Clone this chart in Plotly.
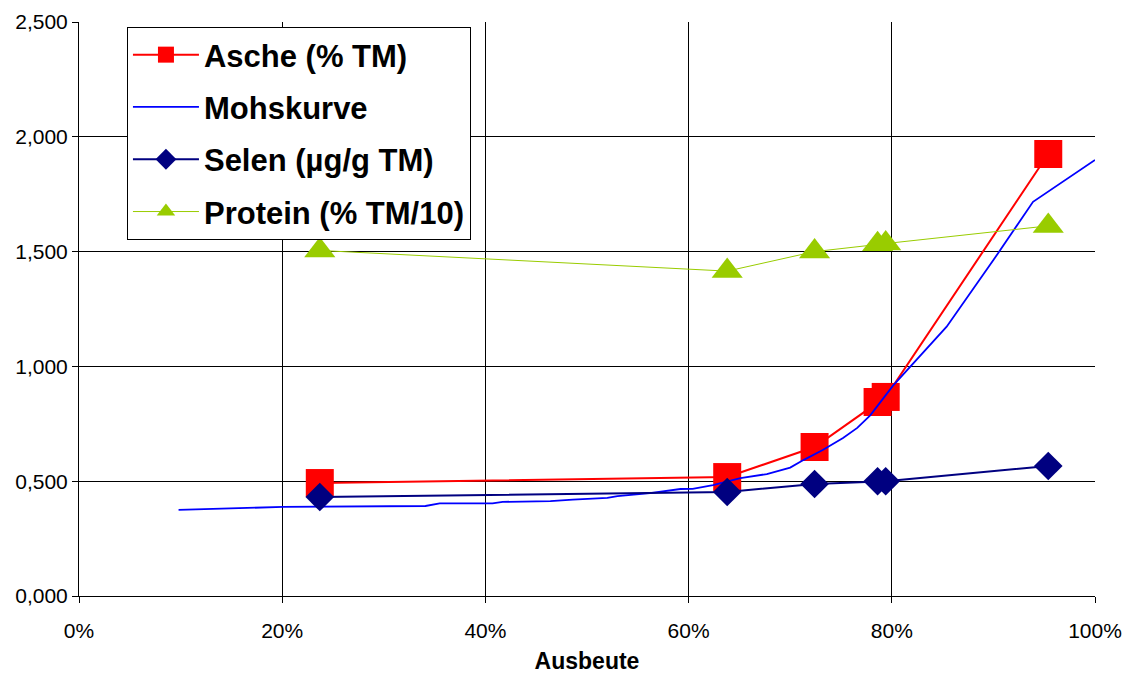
import plotly.graph_objects as go

# Data (x = Ausbeute as fraction, y values)
probe_x = [0.237, 0.638, 0.724, 0.786, 0.794, 0.954]
asche_y = [0.492, 0.518, 0.649, 0.845, 0.867, 1.925]
selen_y = [0.431, 0.453, 0.488, 0.500, 0.500, 0.566]
protein_y = [1.505, 1.415, 1.500, 1.532, 1.535, 1.612]

mohs_x = [0.098, 0.201, 0.341, 0.355, 0.407, 0.417, 0.464, 0.486, 0.520, 0.530,
          0.562, 0.592, 0.604, 0.624, 0.651, 0.677, 0.700, 0.713, 0.732, 0.752,
          0.766, 0.779, 0.801, 0.818, 0.854, 0.900, 0.939, 1.000]
mohs_y = [0.375, 0.388, 0.392, 0.403, 0.403, 0.410, 0.413, 0.420, 0.427, 0.435,
          0.448, 0.466, 0.467, 0.483, 0.513, 0.531, 0.559, 0.592, 0.636, 0.688,
          0.732, 0.788, 0.915, 0.999, 1.173, 1.463, 1.717, 1.899]

y_ticks = [0, 0.5, 1.0, 1.5, 2.0, 2.5]
y_ticktext = ["0,000", "0,500", "1,000", "1,500", "2,000", "2,500"]
x_ticks = [0, 0.2, 0.4, 0.6, 0.8, 1.0]
x_ticktext = ["0%", "20%", "40%", "60%", "80%", "100%"]

fig = go.Figure()
fig.add_trace(go.Scatter(x=probe_x, y=asche_y, name="Asche (% TM)", mode="lines+markers",
                         line=dict(color="#FF0000", width=2),
                         marker=dict(symbol="square", size=28, color="#FF0000"),
                         legendgroup="a"))
fig.add_trace(go.Scatter(x=mohs_x, y=mohs_y, name="Mohskurve", mode="lines",
                         line=dict(color="#0000FF", width=1.8), legendgroup="b"))
fig.add_trace(go.Scatter(x=probe_x, y=selen_y, name="Selen (µg/g TM)", mode="lines+markers",
                         line=dict(color="#000080", width=2),
                         marker=dict(symbol="diamond", size=22, color="#000080"),
                         legendgroup="c"))
fig.add_trace(go.Scatter(x=probe_x, y=protein_y, name="Protein (% TM/10)", mode="lines+markers",
                         line=dict(color="#99CC00", width=1),
                         marker=dict(symbol="triangle-up", size=27, color="#99CC00"),
                         legendgroup="d"))

fig.update_layout(
    width=1139, height=674,
    margin=dict(l=79, r=44, t=22, b=78),
    paper_bgcolor="white", plot_bgcolor="white",
    font=dict(family="Liberation Sans, Arial, sans-serif", color="black", size=21),
    showlegend=True,
    legend=dict(x=0.0472, y=0.9913, xanchor="left", yanchor="top",
                bgcolor="white", bordercolor="black", borderwidth=1,
                font=dict(size=31, weight="bold"), tracegroupgap=9,
                itemwidth=66),
    xaxis=dict(range=[0, 1], tickvals=x_ticks, ticktext=x_ticktext,
               showgrid=True, gridcolor="black", gridwidth=1,
               showline=True, linecolor="black", linewidth=1,
               ticks="outside", ticklen=6, tickcolor="black", zeroline=False,
               ticklabelstandoff=10, automargin=False,
               title=dict(text="Ausbeute", font=dict(size=23, weight="bold"), standoff=12)),
    yaxis=dict(range=[0, 2.5], tickvals=y_ticks, ticktext=y_ticktext,
               showgrid=True, gridcolor="black", gridwidth=1,
               showline=True, linecolor="black", linewidth=1, automargin=False,
               ticks="outside", ticklen=6, tickcolor="black", zeroline=False),
)

fig.write_html("out.html")
